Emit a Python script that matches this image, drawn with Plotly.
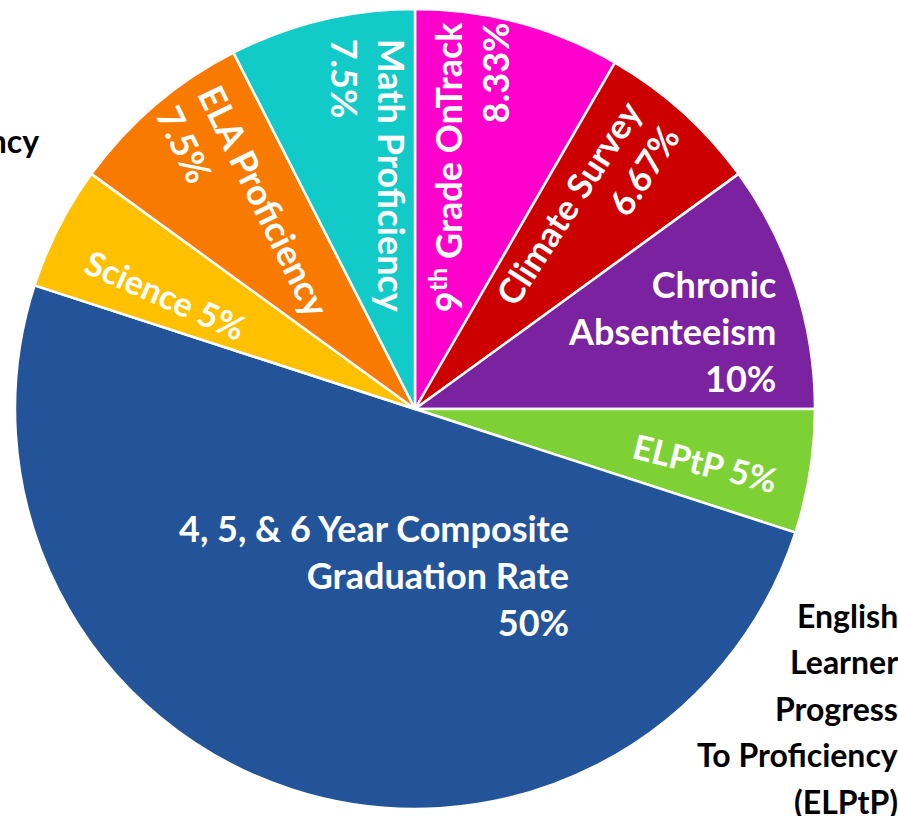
import math
import plotly.graph_objects as go

# ---- data ----
labels = ["9<sup>th</sup> Grade OnTrack", "Climate Survey", "Chronic<br>Absenteeism", "ELPtP",
          "4, 5, & 6 Year Composite<br>Graduation Rate", "Science", "ELA Proficiency", "Math Proficiency"]
values = [8.33, 6.67, 10, 5, 50, 5, 7.5, 7.5]
value_text = ["8.33%", "6.67%", "10%", "5%", "50%", "5%", "7.5%", "7.5%"]
outside_lines = ["English", "Learner", "Progress", "To Proficiency", "(ELPtP)"]
clipped_label = "ELA Proficiency"

# ---- style ----
colors = ["#FF00CC", "#CC0000", "#7A22A0", "#7ED134", "#23549A", "#FFC000", "#F97A00", "#12CBC8"]
separators = ["<br>", "<br>", "<br>", " ", "<br>", " ", "<br>", "<br>"]
label_angles = [-90, -57, 0, 14, 0, 24, 64, 90]
label_align = ["right", "right", "right", "left", "right", "left", "left", "left"]
label_radius = [0.625, 0.68, 0.68, 0.74, 0.43, 0.685, 0.69, 0.60]
label_size = [36, 35, 36, 34, 36, 34, 36, 36]
label_shift = [(-10, 0), (-10, 8), (-2, 6), (-2, 7), (12, 2), (-5, 10), (8, 12), (9, 0)]

W, H = 898, 816
FONT = "Lato"
CX, CY, R = 415, 409, 400  # pie centre / radius in pixels


def px(x):
    return x / W


def py(y):
    return 1 - y / H


fig = go.Figure()
fig.add_trace(go.Pie(
    labels=labels, values=values, textinfo="none",
    sort=False, direction="clockwise", rotation=0,
    marker=dict(colors=colors, line=dict(color="white", width=2.5)),
    domain=dict(x=[px(CX - R), px(CX + R)], y=[py(CY + R), py(CY - R)]),
    showlegend=False, hoverinfo="label+percent",
))

# slice labels placed at each slice's mid-angle (computed from the data)
total = sum(values)
cum = 0.0
for i, v in enumerate(values):
    mid = (cum + v / 2) / total * 2 * math.pi
    cum += v
    r = label_radius[i] * R
    x = CX + r * math.sin(mid) + label_shift[i][0]
    y = CY - r * math.cos(mid) + label_shift[i][1]
    fig.add_annotation(text=labels[i] + separators[i] + value_text[i],
                       xref="paper", yref="paper", x=px(x), y=py(y),
                       xanchor="center", yanchor="middle", showarrow=False,
                       textangle=label_angles[i], align=label_align[i],
                       font=dict(family=FONT, size=label_size[i], color="white", weight="bold"))

for i, line in enumerate(outside_lines):
    fig.add_annotation(text=line, xref="paper", yref="paper",
                       x=px(900), y=py(615 + 46.5 * i), xanchor="right", yanchor="middle",
                       showarrow=False,
                       font=dict(family=FONT, size=32, color="black", weight="bold"))
fig.add_annotation(text=clipped_label, xref="paper", yref="paper",
                   x=px(41), y=py(140), xanchor="right", yanchor="middle",
                   showarrow=False,
                   font=dict(family=FONT, size=32, color="black", weight="bold"))

fig.update_layout(width=W, height=H, margin=dict(l=0, r=0, t=0, b=0),
                  paper_bgcolor="white", plot_bgcolor="white")
fig.write_html("out.html", config={"displayModeBar": False},
               post_script="document.body.style.margin='0';document.body.style.overflow='hidden';")
